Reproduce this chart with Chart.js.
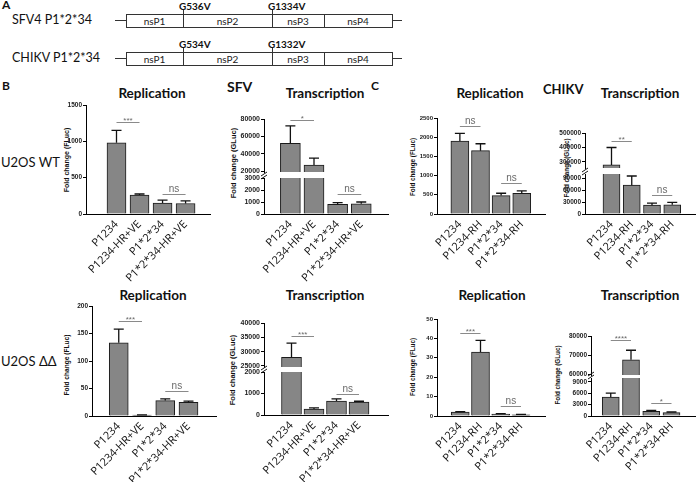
<!DOCTYPE html>
<html>
<head>
<meta charset="utf-8">
<script src="https://cdn.jsdelivr.net/npm/chart.js@4.4.0/dist/chart.umd.min.js"></script>
<style>
body { margin: 0; background: #fff; }
#fig { position: relative; width: 696px; height: 482px; overflow: hidden; font-family: Lato, "Open Sans", sans-serif; color: #111; background: #fff; }
.t { position: absolute; white-space: nowrap; line-height: 1; }
canvas { position: absolute; }
.box { position: absolute; border: 1px solid #333; background: #fff; box-sizing: border-box; }
.ln { position: absolute; background: #333; }
</style>
</head>
<body>
<div id="fig"></div>
<script>
// categories (x tick labels)
const sfvCats = ["P1234", "P1234-HR+VE", "P1*2*34", "P1*2*34-HR+VE"];
const chikvCats = ["P1234", "P1234-RH", "P1*2*34", "P1*2*34-RH"];

// B: SFV
const sfvRepWT = [980, 260, 150, 145];
const sfvRepWTErr = [1150, 275, 190, 180];
const sfvTrWT = [52000, 27000, 800, 850];
const sfvTrWTErr = [72000, 35000, 950, 1000];
const sfvRepDD = [133, 1.5, 28, 25];
const sfvRepDDErr = [158, 2, 31, 27];
const sfvTrDD = [28000, 280, 650, 600];
const sfvTrDDErr = [33000, 330, 750, 640];

// C: CHIKV
const chikvRepWT = [1900, 1650, 480, 540];
const chikvRepWTErr = [2100, 1830, 540, 600];
const chikvTrWT = [280000, 72000, 22000, 23000];
const chikvTrWTErr = [400000, 95000, 27000, 29000];
const chikvRepDD = [2.0, 33, 1.0, 0.6];
const chikvRepDDErr = [2.3, 39, 1.2, 0.8];
const chikvTrDD = [5000, 67500, 1200, 900];
const chikvTrDDErr = [6000, 72500, 1500, 1050];

// y tick labels
const ticksB1 = [0, 500, 1000, 1500];
const ticksB2hi = [20000, 40000, 60000, 80000];
const ticksB2lo = [0, 1000, 2000, 3000];
const ticksB3 = [0, 50, 100, 150, 200];
const ticksB4hi = [25000, 30000, 35000, 40000];
const ticksB4lo = [0, 500, 1000, 1500, 2000];
const ticksC1 = [0, 500, 1000, 1500, 2000, 2500];
const ticksC2hi = [300000, 400000, 500000];
const ticksC2lo = [0, 30000, 60000, 90000];
const ticksC3 = [0, 10, 20, 30, 40, 50];
const ticksC4hi = [60000, 70000, 80000];
const ticksC4lo = [0, 3000, 6000, 9000];

// significance brackets: [from bar, to bar, value, label]
const sigB1 = [[0, 1, 1270, "***"], [2, 3, 280, "ns"]];
const sigB2hi = [[0, 1, 79000, "*"]];
const sigB2lo = [[2, 3, 1670, "ns"]];
const sigB3 = [[0, 1, 173, "***"], [2, 3, 45, "ns"]];
const sigB4hi = [[0, 1, 35500, "***"]];
const sigB4lo = [[2, 3, 1000, "ns"]];
const sigC1 = [[0, 1, 2290, "ns"], [2, 3, 800, "ns"]];
const sigC2hi = [[0, 1, 445000, "**"]];
const sigC2lo = [[2, 3, 47000, "ns"]];
const sigC3 = [[0, 1, 43, "***"], [2, 3, 5, "ns"]];
const sigC4hi = [[0, 1, 78000, "****"]];
const sigC4lo = [[2, 3, 3500, "*"]];

const fig = document.getElementById("fig");

function txt(s, x, y, css, center) {
  const d = document.createElement("div");
  d.className = "t";
  d.textContent = s;
  d.style.cssText += css;
  d.style.left = x + "px";
  d.style.top = y + "px";
  d.style.transform = center ? "translate(-50%,-50%)" : "translate(0,-50%)";
  fig.appendChild(d);
  return d;
}

function ytitle(s, x, y, size) {
  const d = txt(s, x, y, "font-family:'Liberation Sans',Arial,sans-serif;font-weight:bold;font-size:" + size + "px;", true);
  d.style.transform = "translate(-50%,-50%) rotate(-90deg)";
}

function div(cls, x, y, w, h) {
  const d = document.createElement("div");
  d.className = cls;
  d.style.left = x + "px"; d.style.top = y + "px";
  d.style.width = w + "px"; d.style.height = h + "px";
  fig.appendChild(d);
}

// Panel A: domain diagrams
function construct(name, y, muts) {
  txt(name, 12, y + 6, "font-size:12.5px;");
  div("ln", 115, y + 6, 287, 1);
  div("box", 126, y, 267, 14);
  [183, 272, 324].forEach(x => div("ln", x, y, 1, 14));
  [["nsP1", 154.5], ["nsP2", 227.5], ["nsP3", 298], ["nsP4", 358]].forEach(p => txt(p[0], p[1], y + 7, "font-size:10px;color:#222;", true));
  muts.forEach(m => {
    div("ln", m[1], y - 5, 1, 5);
    txt(m[0], m[1] - 4, y - 8, "font-size:10px;font-weight:bold;");
  });
}
txt("A", 2, 5, "font-size:12px;font-weight:bold;");
construct("SFV4 P1*2*34", 14, [["G536V", 183], ["G1334V", 272]]);
construct("CHIKV P1*2*34", 52, [["G534V", 183], ["G1332V", 272]]);

// labels
txt("B", 2, 86, "font-size:12px;font-weight:bold;");
txt("C", 371, 86, "font-size:12px;font-weight:bold;");
txt("SFV", 227, 87, "font-size:14px;font-weight:bold;");
txt("CHIKV", 543, 89, "font-size:13px;font-weight:bold;");
txt("U2OS WT", 1, 162, "font-size:13px;");
txt("U2OS \u0394\u0394", 1, 361, "font-size:13px;");
[["Replication", 152, 94], ["Transcription", 325, 94], ["Replication", 490, 94], ["Transcription", 640, 94],
 ["Replication", 153, 296], ["Transcription", 325, 296], ["Replication", 492, 296], ["Transcription", 640, 296]]
  .forEach(p => txt(p[0], p[1], p[2], "font-size:13.5px;font-weight:bold;", true));

ytitle("Fold change (FLuc)", 66, 160, 7);
ytitle("Fold change (GLuc)", 234, 163, 7.5);
ytitle("Fold change (FLuc)", 67, 365, 6.6);
ytitle("Fold change (GLuc)", 233, 370, 7.5);
ytitle("Fold change (FLuc)", 413, 167, 6.3);
ytitle("Fold change (GLuc)", 567, 168, 6.3);
ytitle("Fold change (FLuc)", 413, 367, 6.3);
ytitle("Fold change (GLuc)", 558, 375, 6.3);

// one chart per axis segment
function seg(o) {
  const YW = 34, PT = 8, PR = 10;
  const XH = o.showX ? 70 : 0, PB = o.showX ? 0 : 6;
  const w = YW + (o.right - o.left) + PR;
  const h = PT + (o.bottom - o.top) + XH + PB;
  const cv = document.createElement("canvas");
  cv.width = w; cv.height = h;
  cv.style.width = w + "px"; cv.style.height = h + "px";
  cv.style.left = (o.left - YW) + "px";
  cv.style.top = (o.top - PT) + "px";
  fig.appendChild(cv);

  const errBars = {
    id: "errBars",
    afterDatasetsDraw(chart) {
      const { ctx, chartArea: a, scales: { x, y } } = chart;
      ctx.save();
      ctx.beginPath();
      ctx.rect(a.left, a.top - 2, a.right - a.left, a.bottom - a.top + 2);
      ctx.clip();
      ctx.strokeStyle = "#111";
      ctx.lineWidth = 1.3;
      o.vals.forEach((v, i) => {
        const px = x.getPixelForValue(i);
        const y0 = y.getPixelForValue(v), y1 = y.getPixelForValue(o.errs[i]);
        ctx.beginPath();
        ctx.moveTo(px, y0); ctx.lineTo(px, y1);
        ctx.moveTo(px - 5, y1); ctx.lineTo(px + 5, y1);
        ctx.stroke();
      });
      ctx.restore();
    }
  };
  const sigLines = {
    id: "sigLines",
    afterDraw(chart) {
      const { ctx, scales: { x, y }, chartArea: a } = chart;
      ctx.save();
      (o.sig || []).forEach(s => {
        const x1 = x.getPixelForValue(s[0]), x2 = x.getPixelForValue(s[1]);
        const py = Math.round(y.getPixelForValue(s[2])) + 0.5;
        ctx.strokeStyle = "#8a8a8a";
        ctx.lineWidth = 1;
        ctx.beginPath(); ctx.moveTo(x1, py); ctx.lineTo(x2, py); ctx.stroke();
        ctx.fillStyle = "#6a6a6a";
        ctx.font = (s[3] === "ns" ? "10px" : "8px") + " 'Liberation Sans', Arial, sans-serif";
        ctx.textAlign = "center";
        ctx.textBaseline = "bottom";
        ctx.fillText(s[3], (x1 + x2) / 2, py - (s[3] === "ns" ? 0 : -2));
      });
      if (o.brk) {
        ctx.strokeStyle = "#111";
        ctx.lineWidth = 1;
        [-4, -1].forEach(d => {
          ctx.beginPath();
          ctx.moveTo(a.left - 3, a.top + d + 2);
          ctx.lineTo(a.left + 3, a.top + d - 2);
          ctx.stroke();
        });
      }
      ctx.restore();
    }
  };

  new Chart(cv, {
    type: "bar",
    data: {
      datasets: [{
        data: o.vals.map((v, i) => ({ x: i, y: v })),
        backgroundColor: "#868686",
        borderColor: "#1a1a1a",
        borderWidth: 1,
        barThickness: o.bw,
        clip: 0
      }]
    },
    options: {
      responsive: false,
      animation: false,
      events: [],
      layout: { padding: { top: PT, right: PR, bottom: PB, left: 0 } },
      plugins: { legend: { display: false }, tooltip: { enabled: false } },
      scales: {
        x: {
          type: "linear",
          display: !!o.showX,
          min: -(o.first - o.left) / o.step,
          max: 3 + (o.right - (o.first + 3 * o.step)) / o.step,
          grid: { display: false, drawTicks: false },
          border: { display: true, color: "#000", width: 1 },
          ticks: {
            autoSkip: false, minRotation: 45, maxRotation: 45, padding: 4,
            font: { family: "Open Sans", size: 11 }, color: "#111",
            callback: v => o.cats[v]
          },
          afterBuildTicks: s => { s.ticks = o.cats.map((c, i) => ({ value: i })); },
          afterFit: s => { s.height = XH; }
        },
        y: {
          min: o.min, max: o.max,
          grid: { display: true, drawOnChartArea: false, drawTicks: true, tickLength: 3, color: "#000" },
          border: { display: true, color: "#000", width: 1 },
          ticks: {
            padding: 1, color: "#222",
            font: { family: "Liberation Sans", size: o.tf, weight: "bold" },
            callback: v => String(v)
          },
          afterBuildTicks: s => { s.ticks = o.ticks.map(v => ({ value: v })); },
          afterFit: s => { s.width = YW; }
        }
      }
    },
    plugins: [errBars, sigLines]
  });
}

// B, U2OS WT
seg({ left: 86, right: 210, top: 105, bottom: 214, min: 0, max: 1500, ticks: ticksB1, first: 106, step: 30.7, bw: 19, tf: 6.5,
  cats: sfvCats, vals: sfvRepWT, errs: sfvRepWTErr, sig: sigB1, showX: true });
seg({ left: 264, right: 388, top: 119, bottom: 172, min: 19000, max: 80000, ticks: ticksB2hi, first: 278.5, step: 31.5, bw: 20, tf: 7,
  cats: sfvCats, vals: sfvTrWT, errs: sfvTrWTErr, sig: sigB2hi, showX: false });
seg({ left: 264, right: 388, top: 178, bottom: 214, min: 0, max: 3000, ticks: ticksB2lo, first: 278.5, step: 31.5, bw: 20, tf: 7,
  cats: sfvCats, vals: sfvTrWT, errs: sfvTrWTErr, sig: sigB2lo, showX: true, brk: true });
// B, U2OS dd
seg({ left: 92, right: 216, top: 306, bottom: 416, min: 0, max: 200, ticks: ticksB3, first: 107, step: 31, bw: 19, tf: 6.5,
  cats: sfvCats, vals: sfvRepDD, errs: sfvRepDDErr, sig: sigB3, showX: true });
seg({ left: 264, right: 388, top: 323, bottom: 367, min: 24650, max: 40000, ticks: ticksB4hi, first: 280, step: 30, bw: 20, tf: 7,
  cats: sfvCats, vals: sfvTrDD, errs: sfvTrDDErr, sig: sigB4hi, showX: false });
seg({ left: 264, right: 388, top: 372, bottom: 415, min: 0, max: 2000, ticks: ticksB4lo, first: 280, step: 30, bw: 20, tf: 7,
  cats: sfvCats, vals: sfvTrDD, errs: sfvTrDDErr, sig: sigB4lo, showX: true, brk: true });
// C, U2OS WT
seg({ left: 437, right: 545, top: 118, bottom: 214, min: 0, max: 2500, ticks: ticksC1, first: 449.5, step: 27.5, bw: 18, tf: 6,
  cats: chikvCats, vals: chikvRepWT, errs: chikvRepWTErr, sig: sigC1, showX: true });
seg({ left: 585, right: 695, top: 133, bottom: 168, min: 258600, max: 500000, ticks: ticksC2hi, first: 602, step: 27, bw: 17, tf: 6.5,
  cats: chikvCats, vals: chikvTrWT, errs: chikvTrWTErr, sig: sigC2hi, showX: false });
seg({ left: 585, right: 695, top: 174, bottom: 214, min: 0, max: 100000, ticks: ticksC2lo, first: 602, step: 27, bw: 17, tf: 6.5,
  cats: chikvCats, vals: chikvTrWT, errs: chikvTrWTErr, sig: sigC2lo, showX: true, brk: true });
// C, U2OS dd
seg({ left: 437, right: 545, top: 319, bottom: 416, min: 0, max: 50, ticks: ticksC3, first: 450, step: 27, bw: 18, tf: 6,
  cats: chikvCats, vals: chikvRepDD, errs: chikvRepDDErr, sig: sigC3, showX: true });
seg({ left: 591, right: 695, top: 336, bottom: 375, min: 59500, max: 80000, ticks: ticksC4hi, first: 600, step: 27, bw: 17, tf: 6.5,
  cats: chikvCats, vals: chikvTrDD, errs: chikvTrDDErr, sig: sigC4hi, showX: false });
seg({ left: 591, right: 695, top: 378, bottom: 416, min: 0, max: 10000, ticks: ticksC4lo, first: 600, step: 27, bw: 17, tf: 6.5,
  cats: chikvCats, vals: chikvTrDD, errs: chikvTrDDErr, sig: sigC4lo, showX: true, brk: true });
</script>
</body>
</html>
